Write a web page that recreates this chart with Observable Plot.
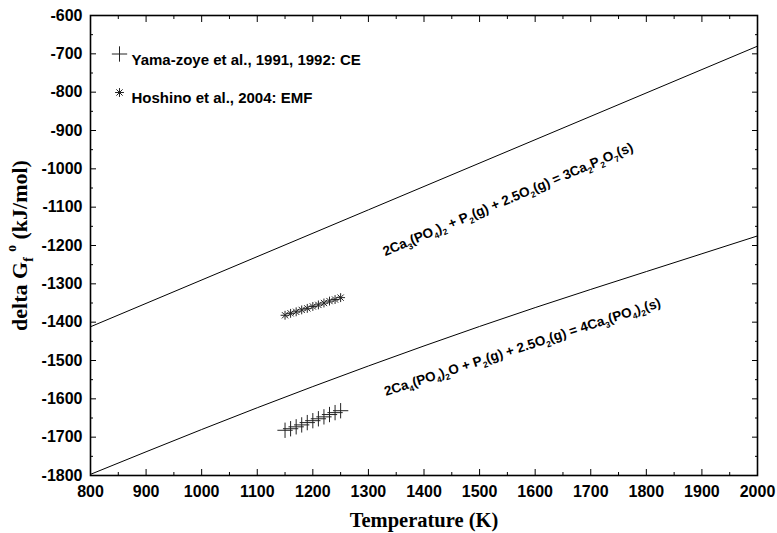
<!DOCTYPE html>
<html>
<head>
<meta charset="utf-8">
<script src="https://cdn.jsdelivr.net/npm/d3@7"></script>
<script src="https://cdn.jsdelivr.net/npm/@observablehq/plot@0.6"></script>
<style>
  body { margin: 0; background: #fff; }
  #chart { width: 777px; height: 533px; }
</style>
</head>
<body>
<div id="chart"></div>
<script>
// ---- data ----
// Upper line: 2Ca3(PO4)2 + P2(g) + 2.5O2(g) = 3Ca2P2O7(s)
const upperT = [800, 1300, 2000];
const upperG = [-1412, -1107, -680];
// Lower line: 2Ca4(PO4)2O + P2(g) + 2.5O2(g) = 4Ca3(PO4)2(s)
const lowerT = [800, 1000, 1200, 1400, 1600, 1800, 2000];
const lowerG = [-1797, -1680, -1568, -1462, -1362, -1268, -1175];
// Yama-zoye et al., 1991, 1992: CE
const yamaT = [1150, 1160, 1170, 1180, 1190, 1200, 1210, 1220, 1230, 1240, 1250];
const yamaG = [-1682, -1678, -1673, -1668, -1662, -1657, -1652, -1647, -1641, -1636, -1631];
// Hoshino et al., 2004: EMF
const hoshinoT = [1150, 1160, 1170, 1180, 1190, 1200, 1210, 1220, 1230, 1240, 1250];
const hoshinoG = [-1382, -1377, -1373, -1368, -1364, -1359, -1355, -1350, -1345, -1341, -1336];

const legendLabels = ["Yama-zoye et al., 1991, 1992: CE", "Hoshino et al., 2004: EMF"];
const reactionLabels = [
  "2Ca_3(PO_4)_2 + P_2(g) + 2.5O_2(g) = 3Ca_2P_2O_7(s)",
  "2Ca_4(PO_4)_2O + P_2(g) + 2.5O_2(g) = 4Ca_3(PO_4)_2(s)"
];
const reactionT = [1551, 1577];
const reactionG = [-1080, -1465];

const xTicks = [800, 900, 1000, 1100, 1200, 1300, 1400, 1500, 1600, 1700, 1800, 1900, 2000];
const xMinorTicks = [850, 950, 1050, 1150, 1250, 1350, 1450, 1550, 1650, 1750, 1850, 1950];
const yTicks = [-600, -700, -800, -900, -1000, -1100, -1200, -1300, -1400, -1500, -1600, -1700, -1800];
const yMinorTicks = [-650, -750, -850, -950, -1050, -1150, -1250, -1350, -1450, -1550, -1650, -1750];

const xTitle = "Temperature (K)";
const yTitle = "delta G_f ^o (kJ/mol)";

// ---- build ----
const upper = upperT.map((T, i) => ({T, G: upperG[i]}));
const lower = lowerT.map((T, i) => ({T, G: lowerG[i]}));
const yama = yamaT.map((T, i) => ({T, G: yamaG[i]}));
const hoshino = hoshinoT.map((T, i) => ({T, G: hoshinoG[i]}));
const reactions = reactionLabels.map((label, i) => ({label, T: reactionT[i], G: reactionG[i]}));

const sans = "'Liberation Sans', Arial, Helvetica, sans-serif";
const serif = "'Liberation Serif', 'Times New Roman', Times, serif";

// 8-armed asterisk symbol
const asterisk8 = {
  draw(context, size) {
    const r = Math.sqrt(size) * 0.5;
    const d = r * Math.SQRT1_2;
    context.moveTo(-r, 0); context.lineTo(r, 0);
    context.moveTo(0, -r); context.lineTo(0, r);
    context.moveTo(-d, -d); context.lineTo(d, d);
    context.moveTo(-d, d); context.lineTo(d, -d);
  }
};

const tickText = {fontSize: 16, fontWeight: "bold", fontFamily: sans};

const chart = Plot.plot({
  width: 777,
  height: 533,
  marginLeft: 90,
  marginRight: 20,
  marginTop: 15,
  marginBottom: 58,
  x: {domain: [800, 2000]},
  y: {domain: [-1800, -600]},
  style: {background: "#fff", color: "#000", overflow: "visible"},
  marks: [
    Plot.line(upper, {x: "T", y: "G", stroke: "#000", strokeWidth: 1}),
    Plot.line(lower, {x: "T", y: "G", curve: "natural", stroke: "#000", strokeWidth: 1}),
    Plot.dot(yama, {x: "T", y: "G", symbol: "plus", r: 5, stroke: "#222", strokeWidth: 1}),
    Plot.dot(hoshino, {x: "T", y: "G", symbol: asterisk8, r: 5, fill: "none", stroke: "#222", strokeWidth: 1}),
    Plot.text([reactions[0]], {x: "T", y: "G", text: "label", rotate: -23, fontSize: 13.5, fontWeight: "bold", fontFamily: sans, fill: "#000"}),
    Plot.text([reactions[1]], {x: "T", y: "G", text: "label", rotate: -18, fontSize: 13.5, fontWeight: "bold", fontFamily: sans, fill: "#000"}),
    // legend
    Plot.dot([legendLabels[0]], {frameAnchor: "top-left", dx: 29, dy: 38.5, symbol: "plus", r: 5, stroke: "#222", strokeWidth: 1}),
    Plot.text([legendLabels[0]], {frameAnchor: "top-left", dx: 41, dy: 38.5, text: d => d, textAnchor: "start", fontSize: 15, fontWeight: "bold", fontFamily: sans, fill: "#000"}),
    Plot.dot([legendLabels[1]], {frameAnchor: "top-left", dx: 29, dy: 77, symbol: asterisk8, r: 5, fill: "none", stroke: "#222", strokeWidth: 1}),
    Plot.text([legendLabels[1]], {frameAnchor: "top-left", dx: 41, dy: 77, text: d => d, textAnchor: "start", fontSize: 15, fontWeight: "bold", fontFamily: sans, fill: "#000"}),
    // axes: labels
    Plot.axisX(xTicks, {anchor: "bottom", tickSize: 0, tickPadding: 10, tickFormat: d => String(d), label: null, ...tickText}),
    Plot.axisY(yTicks, {anchor: "left", tickSize: 0, tickPadding: 8, tickFormat: d => String(d), label: null, ...tickText}),
    // inward ticks on all four sides
    Plot.axisX(xTicks, {anchor: "bottom", tickSize: -6, fill: "none", label: null}),
    Plot.axisX(xMinorTicks, {anchor: "bottom", tickSize: -3, fill: "none", label: null}),
    Plot.axisX(xTicks, {anchor: "top", tickSize: -6, fill: "none", label: null}),
    Plot.axisX(xMinorTicks, {anchor: "top", tickSize: -3, fill: "none", label: null}),
    Plot.axisY(yTicks, {anchor: "left", tickSize: -6, fill: "none", label: null}),
    Plot.axisY(yMinorTicks, {anchor: "left", tickSize: -3, fill: "none", label: null}),
    Plot.axisY(yTicks, {anchor: "right", tickSize: -6, fill: "none", label: null}),
    Plot.axisY(yMinorTicks, {anchor: "right", tickSize: -3, fill: "none", label: null}),
    // axis titles
    Plot.axisX([], {anchor: "bottom", tickSize: 0, label: xTitle, labelAnchor: "center", labelArrow: "none", labelOffset: 51, fontSize: 20.5, fontWeight: "bold", fontFamily: serif}),
    Plot.axisY([], {anchor: "left", tickSize: 0, label: yTitle, labelAnchor: "center", labelArrow: "none", labelOffset: 79, fontSize: 22, fontWeight: "bold", fontFamily: serif}),
    Plot.frame({stroke: "#000", strokeWidth: 1.6})
  ]
});

document.getElementById("chart").appendChild(chart);

// Turn _x / ^x markers into real subscripts / superscripts
function richify(el) {
  let target = el;
  const tsp = el.querySelector("tspan");
  if (tsp) target = tsp;
  const str = target.textContent;
  if (!/[_^]/.test(str)) return;
  const base = parseFloat(getComputedStyle(el).fontSize) || 13;
  while (target.firstChild) target.removeChild(target.firstChild);
  const re = /([_^])(\w)|([^_^]+)/g;
  let m, shift = 0;
  const ns = "http://www.w3.org/2000/svg";
  while ((m = re.exec(str))) {
    const t = document.createElementNS(ns, "tspan");
    if (m[3]) {
      t.textContent = m[3];
      if (shift) t.setAttribute("dy", -shift);
      shift = 0;
    } else {
      const off = m[1] === "_" ? 0.28 * base : -0.5 * base;
      t.textContent = m[2];
      t.setAttribute("font-size", (base * 0.62).toFixed(1));
      t.setAttribute("dy", off - shift);
      shift = off;
    }
    target.appendChild(t);
  }
}
d3.select(chart).selectAll("text").each(function () { richify(this); });
</script>
</body>
</html>
